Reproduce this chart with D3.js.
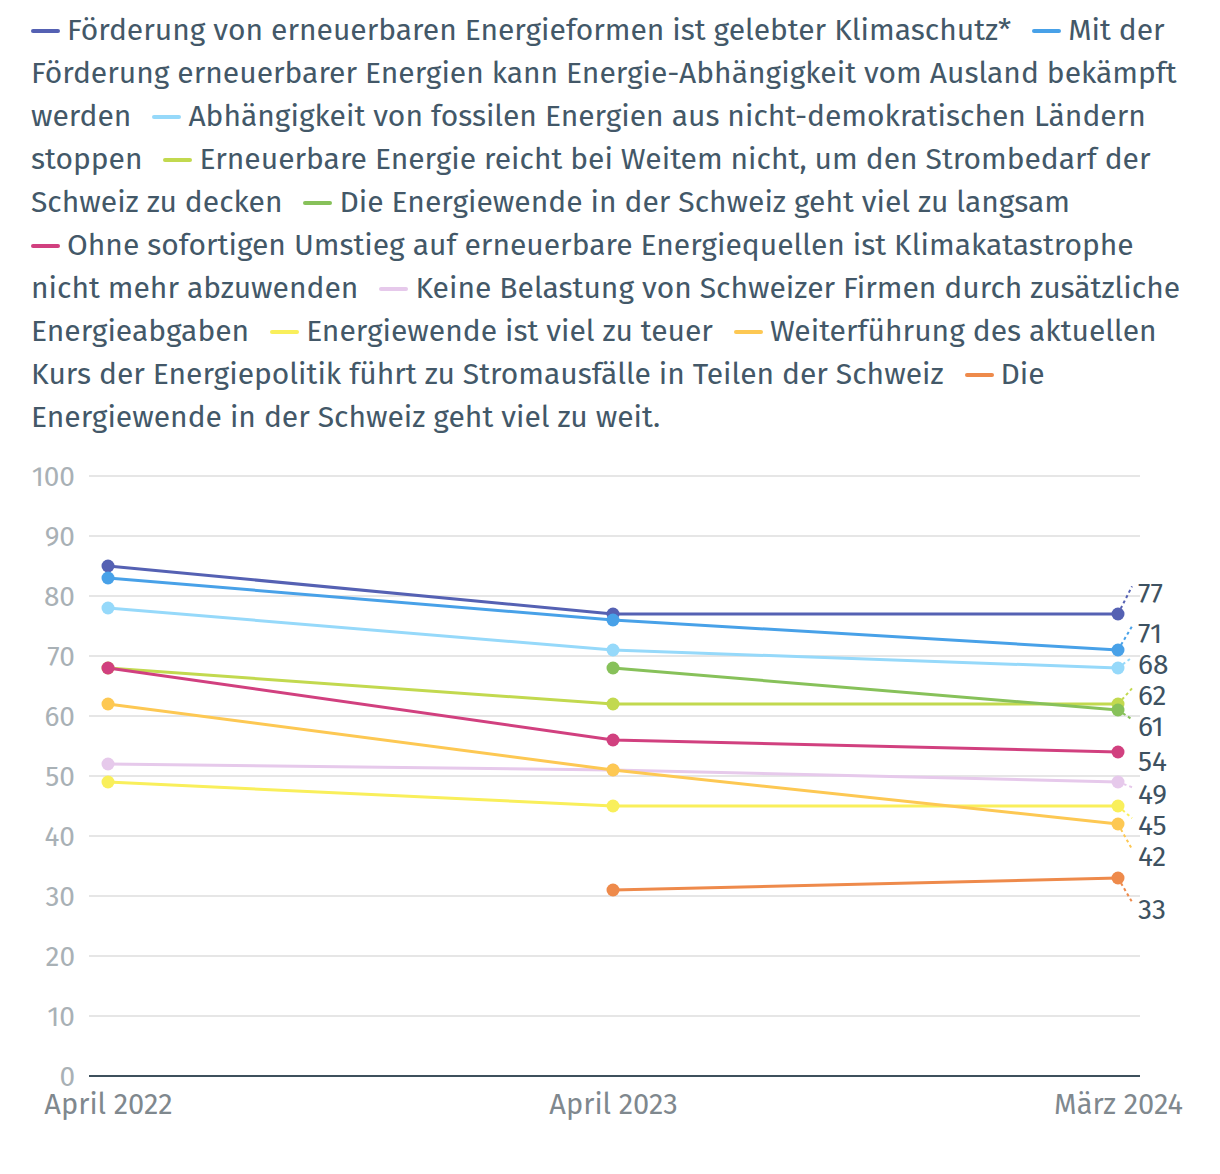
<!DOCTYPE html>
<html>
<head>
<meta charset="utf-8">
<script src="https://cdn.jsdelivr.net/npm/d3@7"></script>
<style>
  body { margin: 0; background: #fff; font-family: "Fira Sans", "Open Sans", sans-serif; }
  #wrap { position: relative; width: 1220px; height: 1174px; }
  #legend {
    position: absolute; left: 31px; top: 9px; width: 1160px;
    font-size: 30px; line-height: 43px; color: #435868;
  }
  #legend .item { margin-right: 13px; }
  #legend .nw { white-space: nowrap; }
  #legend .sw {
    display: inline-block; width: 29px; height: 4px; border-radius: 2px;
    vertical-align: middle; margin-right: 7px; position: relative; top: -1px;
  }
  svg { position: absolute; left: 0; top: 0; }
</style>
</head>
<body>
<div id="wrap">
  <div id="legend"></div>
  <svg id="chart" width="1220" height="1174"></svg>
</div>
<script>
// dates on the x axis
var dates = ["April 2022", "April 2023", "März 2024"]

// series names (legend order)
var names = [
  "Förderung von erneuerbaren Energieformen ist gelebter Klimaschutz*",
  "Mit der Förderung erneuerbarer Energien kann Energie-Abhängigkeit vom Ausland bekämpft werden",
  "Abhängigkeit von fossilen Energien aus nicht-demokratischen Ländern stoppen",
  "Erneuerbare Energie reicht bei Weitem nicht, um den Strombedarf der Schweiz zu decken",
  "Die Energiewende in der Schweiz geht viel zu langsam",
  "Ohne sofortigen Umstieg auf erneuerbare Energiequellen ist Klimakatastrophe nicht mehr abzuwenden",
  "Keine Belastung von Schweizer Firmen durch zusätzliche Energieabgaben",
  "Energiewende ist viel zu teuer",
  "Weiterführung des aktuellen Kurs der Energiepolitik führt zu Stromausfälle in Teilen der Schweiz",
  "Die Energiewende in der Schweiz geht viel zu weit."
]

var colors = ["#5561b3", "#48a1e8", "#96d9fa", "#c2d94f", "#87c15a",
              "#d1407f", "#e6c9eb", "#f9ef5b", "#fdc853", "#ee8a4b"]

// values per series: April 2022, April 2023, März 2024 (null = not asked)
var klimaschutz   = [85, 77, 77]
var auslandAbh    = [83, 76, 71]
var fossilStopp   = [78, 71, 68]
var reichtNicht   = [68, 62, 62]
var zuLangsam     = [null, 68, 61]
var klimaKatastr  = [68, 56, 54]
var keineAbgaben  = [52, 51, 49]
var zuTeuer       = [49, 45, 45]
var stromausfall  = [62, 51, 42]
var zuWeit        = [null, 31, 33]

var yTicks = [0, 10, 20, 30, 40, 50, 60, 70, 80, 90, 100]

var values = [klimaschutz, auslandAbh, fossilStopp, reichtNicht, zuLangsam,
              klimaKatastr, keineAbgaben, zuTeuer, stromausfall, zuWeit]

var series = names.map(function(n, i) {
  return {
    name: n, color: colors[i],
    points: values[i].map(function(v, j) { return { date: dates[j], value: v } })
  }
})

// legend
var legend = d3.select("#legend")
series.forEach(function(s) {
  var words = s.name.split(" ")
  var item = legend.append("span").attr("class", "item")
  var nw = item.append("span").attr("class", "nw")
  nw.append("span").attr("class", "sw").style("background", s.color)
  nw.append("span").text(words[0])
  item.append("span").text(" " + words.slice(1).join(" "))
  legend.append("span").text(" ")
})

var svg = d3.select("#chart")
var plotLeft = 89, plotRight = 1140, plotTop = 476, plotBottom = 1076

var x = d3.scalePoint().domain(dates).range([108, 1118])
var y = d3.scaleLinear().domain([0, 100]).range([plotBottom, plotTop])

// grid
svg.append("g").selectAll("line")
  .data(yTicks.filter(function(d) { return d > 0 }))
  .join("line")
  .attr("x1", plotLeft).attr("x2", plotRight)
  .attr("y1", function(d) { return y(d) }).attr("y2", function(d) { return y(d) })
  .attr("stroke", "#e6e6e6").attr("stroke-width", 2)

// y labels
svg.append("g").selectAll("text")
  .data(yTicks)
  .join("text")
  .attr("x", 75).attr("y", function(d) { return y(d) })
  .attr("dy", "0.36em")
  .attr("text-anchor", "end")
  .attr("font-size", 28)
  .attr("fill", "#a9b1b6")
  .text(function(d) { return d })

// baseline
svg.append("line")
  .attr("x1", plotLeft).attr("x2", plotRight)
  .attr("y1", y(0)).attr("y2", y(0))
  .attr("stroke", "#3e505c").attr("stroke-width", 2)

// x labels
var xAxis = d3.axisBottom(x).tickSize(0).tickPadding(0)
var xg = svg.append("g").attr("transform", "translate(0," + (y(0) + 10) + ")").call(xAxis)
xg.select(".domain").remove()
xg.selectAll("text")
  .attr("font-size", 29)
  .attr("font-family", "Fira Sans, Open Sans, sans-serif")
  .attr("fill", "#7f888e")
  .attr("dy", "0.95em")

// end labels, dodged with a small force layout
var ends = series.map(function(s) {
  var last = s.points[s.points.length - 1]
  return { color: s.color, value: last.value, my: y(last.value), anchor: y(last.value) + 7, x: 0, fx: 0, y: y(last.value) + 7 }
})
var sim = d3.forceSimulation(ends)
  .force("y", d3.forceY(function(d) { return d.anchor }).strength(0.1))
  .force("charge", d3.forceManyBody().strength(-36))
  .force("collide", d3.forceCollide(15.5))
  .stop()
sim.tick(400)

var line = d3.line()
  .defined(function(d) { return d.value != null })
  .x(function(d) { return x(d.date) })
  .y(function(d) { return y(d.value) })

// connectors
svg.append("g").selectAll("line")
  .data(ends.filter(function(d) { return Math.abs(d.y - 7 - d.my) > 4 }))
  .join("line")
  .attr("x1", x(dates[2])).attr("y1", function(d) { return d.my })
  .attr("x2", 1132).attr("y2", function(d) { return d.y - 7 })
  .attr("stroke", function(d) { return d.color })
  .attr("stroke-width", 2)
  .attr("stroke-dasharray", "3,3")

// lines and dots
var sg = svg.append("g").selectAll("g").data(series).join("g")
sg.append("path")
  .attr("d", function(d) { return line(d.points) })
  .attr("fill", "none")
  .attr("stroke", function(d) { return d.color })
  .attr("stroke-width", 3)
sg.selectAll("circle")
  .data(function(d) { return d.points.filter(function(p) { return p.value != null }).map(function(p) { return { p: p, c: d.color } }) })
  .join("circle")
  .attr("cx", function(d) { return x(d.p.date) })
  .attr("cy", function(d) { return y(d.p.value) })
  .attr("r", 6.5)
  .attr("fill", function(d) { return d.c })

svg.append("g").selectAll("text")
  .data(ends)
  .join("text")
  .attr("x", 1138).attr("y", function(d) { return d.y })
  .attr("dy", "0.36em")
  .attr("font-size", 28)
  .attr("fill", "#3e5261")
  .text(function(d) { return d.value })
</script>
</body>
</html>
